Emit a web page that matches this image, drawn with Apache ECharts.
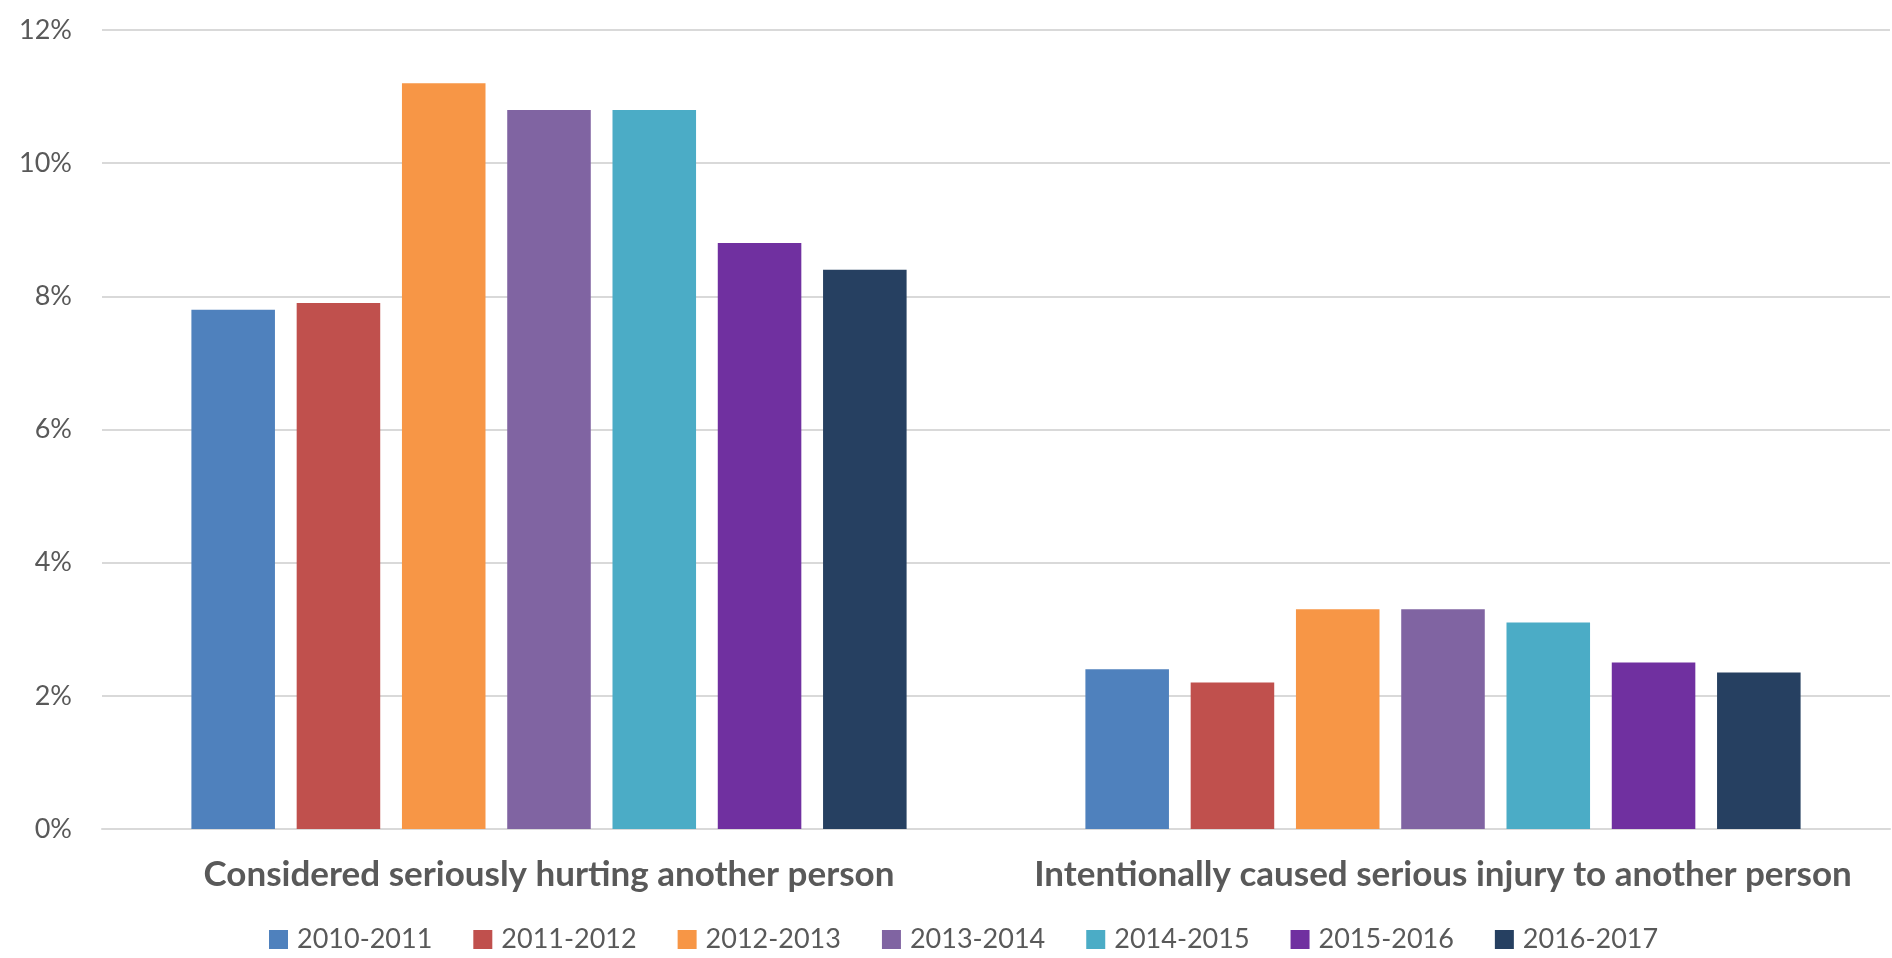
<!DOCTYPE html>
<html>
<head>
<meta charset="utf-8">
<script src="https://cdn.jsdelivr.net/npm/echarts@6/dist/echarts.min.js"></script>
<style>
  html, body { margin: 0; padding: 0; background: #ffffff; }
  #chart { width: 1892px; height: 958px; }
</style>
</head>
<body>
<div id="chart"></div>
<script>
// Categories along the x axis
const categories = [
  'Considered seriously hurting another person',
  'Intentionally caused serious injury to another person'
];

// Survey years (one series per year)
const years = ['2010-2011', '2011-2012', '2012-2013', '2013-2014', '2014-2015', '2015-2016', '2016-2017'];

// Percentages per year: [considered, caused]
const v2010_2011 = [7.8, 2.4];
const v2011_2012 = [7.9, 2.2];
const v2012_2013 = [11.2, 3.3];
const v2013_2014 = [10.8, 3.3];
const v2014_2015 = [10.8, 3.1];
const v2015_2016 = [8.8, 2.5];
const v2016_2017 = [8.4, 2.35];

// Y axis ticks
const yTicks = [0, 2, 4, 6, 8, 10, 12];

const seriesValues = [v2010_2011, v2011_2012, v2012_2013, v2013_2014, v2014_2015, v2015_2016, v2016_2017];
const palette = ['#4F81BD', '#C0504D', '#F79646', '#8064A2', '#4BACC6', '#7030A0', '#264061'];

const textColor = '#595959';
const fontFamily = 'Lato, "Open Sans", sans-serif';

const chart = echarts.init(document.getElementById('chart'), null, { renderer: 'canvas' });

chart.setOption({
  animation: false,
  color: palette,
  grid: { left: 102, right: 2, top: 30, bottom: 129, containLabel: false },
  legend: {
    data: years,
    top: 926,
    left: 269,
    padding: 0,
    icon: 'rect',
    itemWidth: 19,
    itemHeight: 19,
    itemGap: 41,
    textStyle: { color: textColor, fontSize: 27, fontFamily: fontFamily, padding: [0, 0, 0, 4] }
  },
  xAxis: {
    type: 'category',
    data: categories,
    axisTick: { show: false },
    axisLine: { show: true, lineStyle: { color: '#d9d9d9', width: 2 } },
    axisLabel: {
      color: textColor,
      fontSize: 35,
      fontWeight: 'bold',
      fontFamily: fontFamily,
      margin: 28,
      interval: 0
    }
  },
  yAxis: {
    type: 'value',
    min: yTicks[0],
    max: yTicks[yTicks.length - 1],
    interval: 2,
    axisLine: { show: false },
    axisTick: { show: false },
    splitLine: { lineStyle: { color: '#d9d9d9', width: 2 } },
    axisLabel: {
      color: textColor,
      fontSize: 27,
      fontFamily: fontFamily,
      margin: 30,
      formatter: v => v + '%'
    }
  },
  series: years.map((y, i) => ({
    name: y,
    type: 'bar',
    data: seriesValues[i],
    barGap: '26%',
    barCategoryGap: '20%',
    itemStyle: { color: palette[i] }
  }))
});
</script>
</body>
</html>
